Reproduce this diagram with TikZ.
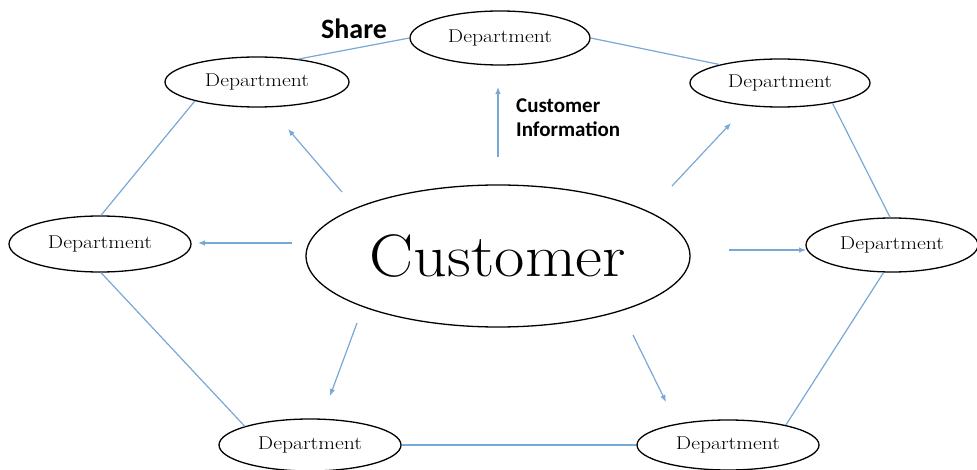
\documentclass[tikz,border=0pt]{standalone}
\usepackage{fontspec}
\usepackage{graphicx}
\newfontfamily\carlitofont{Carlito}
\usetikzlibrary{shapes.geometric,arrows.meta}
\definecolor{lineblue}{RGB}{120,168,214}
\newcommand{\deptname}{\scalebox{1.17}[1]{Department}}
\begin{document}
\begin{tikzpicture}[x=1pt,y=-1pt,
  dept/.style={ellipse,draw=black,line width=1.3pt,inner sep=0pt,font=\fontsize{18.5}{22}\selectfont},
  link/.style={draw=lineblue,line width=1.2pt},
  flow/.style={draw=lineblue,line width=1.2pt,-{Latex[length=7pt,width=5.5pt]}},
  lbl/.style={font=\carlitofont\bfseries\fontsize{21}{24}\selectfont,align=left,inner sep=0pt}]
\useasboundingbox (0,0) rectangle (977,470);
\node[dept,minimum width=180pt,minimum height=54pt] (top) at (500,38) {\deptname};
\node[dept,minimum width=184pt,minimum height=50pt] (tl) at (257,82) {\deptname};
\node[dept,minimum width=180pt,minimum height=48pt] (tr) at (780,83) {\deptname};
\node[dept,minimum width=182pt,minimum height=56pt] (left) at (100,244) {\deptname};
\node[dept,minimum width=172pt,minimum height=54pt] (right) at (892,245) {\deptname};
\node[dept,minimum width=182pt,minimum height=52pt] (bl) at (310,445) {\deptname};
\node[dept,minimum width=182pt,minimum height=50pt] (br) at (728,445) {\deptname};
\node[ellipse,draw=black,line width=1.3pt,inner sep=0pt,minimum width=384pt,minimum height=142pt,font=\fontsize{60}{66}\selectfont] (cust) at (498,256) {\scalebox{1.1}[1]{Customer}};
\node[font=\carlitofont\bfseries\fontsize{28}{32}\selectfont,anchor=west,inner sep=0pt] (share) at (321,29) {Share};
\node[lbl,anchor=north west] (info) at (516,99) {Customer\\Information};
% hexagon links
\draw[link] (tl.29) -- (top.180);
\draw[link] (top.0) -- (tr.163);
\draw[link] (tl.197) -- (left.88);
\draw[link] (left.272) -- (bl.164);
\draw[link] (bl.0) -- (br.180);
\draw[link] (br.19) -- (right.253);
\draw[link] (right.94) -- (tr.339);
% arrows
\coordinate (a1s) at (498,157); \coordinate (a1e) at (498,87);
\coordinate (a2s) at (342,192); \coordinate (a2e) at (288,129);
\coordinate (a3s) at (292,243); \coordinate (a3e) at (198,243);
\coordinate (a4s) at (672,186); \coordinate (a4e) at (731,123);
\coordinate (a5s) at (729,250); \coordinate (a5e) at (806,250);
\coordinate (a6s) at (357,323); \coordinate (a6e) at (330,396);
\coordinate (a7s) at (633,335); \coordinate (a7e) at (666,402);
\draw[flow] (a1s) -- (a1e);
\draw[flow] (a2s) -- (a2e);
\draw[flow] (a3s) -- (a3e);
\draw[flow] (a4s) -- (a4e);
\draw[flow] (a5s) -- (a5e);
\draw[flow] (a6s) -- (a6e);
\draw[flow] (a7s) -- (a7e);
\end{tikzpicture}
\end{document}
